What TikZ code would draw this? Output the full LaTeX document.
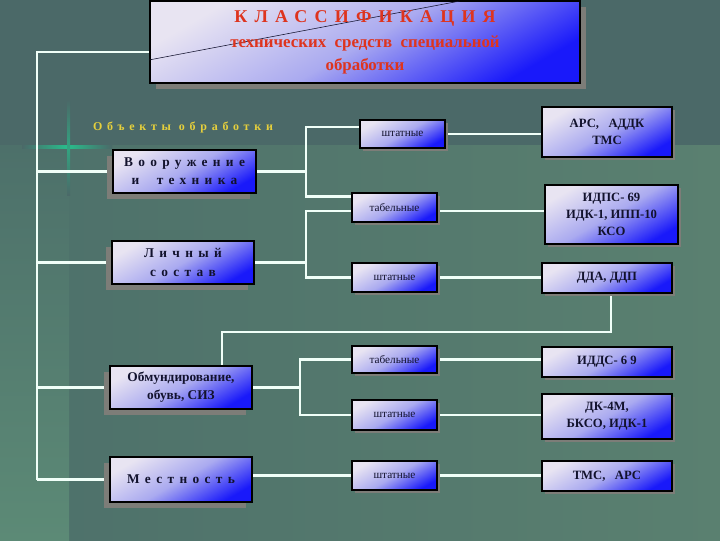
\documentclass[tikz,border=0pt]{standalone}
\usepackage{fontspec}
\setmainfont{Liberation Serif}
\newfontfamily\spacedfont[LetterSpace=40]{Liberation Serif}
\usetikzlibrary{shadows,calc,backgrounds}
\pgfdeclarelayer{bg}
\pgfdeclarelayer{wires}
\pgfsetlayers{bg,wires,main}
\definecolor{bgtop}{RGB}{75,105,104}
\definecolor{bglowl}{RGB}{77,112,106}
\definecolor{bglowr}{RGB}{90,128,112}
\definecolor{stripbot}{RGB}{92,138,118}
\definecolor{glow}{RGB}{40,190,140}
\definecolor{boxlight}{RGB}{232,228,242}
\definecolor{boxmid}{RGB}{170,170,240}
\definecolor{boxblue}{RGB}{25,25,250}
\definecolor{boxtext}{RGB}{18,18,45}
\definecolor{shadowgrey}{RGB}{125,125,120}
\definecolor{wirewhite}{RGB}{240,255,248}
\definecolor{titlered}{RGB}{222,52,30}
\definecolor{gold}{RGB}{230,208,60}
\tikzset{
  box/.style={draw=black, line width=1.4pt, top color=boxlight, bottom color=boxblue,
    middle color=boxmid, shading angle=30, text=boxtext, align=center, inner sep=1pt},
  lbox/.style={box, font=\fontsize{9.5}{13}\selectfont\bfseries,
    general shadow={fill=shadowgrey, shadow xshift=-4pt, shadow yshift=-4pt}},
  mbox/.style={box, font=\fontsize{8}{9}\selectfont,
    general shadow={fill=shadowgrey, shadow xshift=2pt, shadow yshift=-2pt}},
  rbox/.style={box, font=\fontsize{9}{12}\selectfont\bfseries,
    general shadow={fill=shadowgrey, shadow xshift=2pt, shadow yshift=-2pt}},
  wire/.style={draw=wirewhite, line width=1.6pt},
}

\begin{document}
\begin{tikzpicture}[x=0.025cm,y=-0.025cm]
  \useasboundingbox (0,0) rectangle (720,540);
  \begin{pgfonlayer}{bg}
    \fill[bgtop] (0,0) rectangle (720,540);
    \shade[left color=bglowl, right color=bglowr] (0,145) rectangle (720,540);
    \shade[top color=bglowl, bottom color=stripbot] (0,145) rectangle (69,540);
    \shade[left color=bgtop, right color=bgtop, middle color=glow] (22,145.5) rectangle (112,148.5);
    \shade[top color=bgtop, bottom color=bgtop, middle color=glow!70!bgtop] (67,100) rectangle (70,195);
  \end{pgfonlayer}

  % title
  \node[box, minimum width=10.75cm, minimum height=2.05cm,
    general shadow={fill=shadowgrey, shadow xshift=4pt, shadow yshift=-4pt}] (title) at (365,42) {};
  \draw[boxtext, line width=0.4pt] (title.west |- 0,60) -- (460,1);
  \node[text=titlered, font=\fontsize{12.8}{14}\selectfont\bfseries\spacedfont] (t1) at (365,18) {КЛАССИФИКАЦИЯ};
  \node[text=titlered, font=\fontsize{12}{16}\selectfont\bfseries, align=center] (t2) at (365,55)
    {технических~~средств~~специальной\\обработки};

  \node[text=gold, font=\fontsize{8.5}{10}\selectfont\bfseries\spacedfont] (obj) at (183,127) {Объекты обработки};

  % objects
  \node[lbox, minimum width=3.575cm, minimum height=1.075cm] (vooruzh) at (184.5,171.5)
    {\spacedfont Вооружение\\\spacedfont и~~техника};
  \node[lbox, minimum width=3.55cm, minimum height=1.075cm] (lichn) at (183,262.5)
    {\spacedfont Личный\\\spacedfont состав};
  \node[lbox, minimum width=3.55cm, minimum height=1.075cm] (obmund) at (181,387.5)
    {Обмундирование,\\обувь, СИЗ};
  \node[lbox, minimum width=3.55cm, minimum height=1.125cm] (mestn) at (181,479.5)
    {\spacedfont Местность};

  % middle
  \node[mbox, minimum width=2.125cm, minimum height=0.7cm] (sht1) at (402.5,134) {штатные};
  \node[mbox, minimum width=2.125cm, minimum height=0.725cm] (tab1) at (394.5,207.5) {табельные};
  \node[mbox, minimum width=2.125cm, minimum height=0.725cm] (sht2) at (394.5,277.5) {штатные};
  \node[mbox, minimum width=2.125cm, minimum height=0.675cm] (tab2) at (394.5,359.5) {табельные};
  \node[mbox, minimum width=2.125cm, minimum height=0.75cm] (sht3) at (394.5,415) {штатные};
  \node[mbox, minimum width=2.125cm, minimum height=0.725cm] (sht4) at (394.5,475.5) {штатные};

  % results
  \node[rbox, minimum width=3.25cm, minimum height=1.25cm] (res1) at (607,132) {АРС,~~~АДДК\\ТМС};
  \node[rbox, minimum width=3.325cm, minimum height=1.475cm] (res2) at (611.5,214.5)
    {ИДПС- 69\\ИДК-1, ИПП-10\\КСО};
  \node[rbox, minimum width=3.25cm, minimum height=0.75cm] (res3) at (607,278) {ДДА, ДДП};
  \node[rbox, minimum width=3.25cm, minimum height=0.75cm] (res4) at (607,362) {ИДДС- 6 9};
  \node[rbox, minimum width=3.25cm, minimum height=1.125cm] (res5) at (607,416.5) {ДК-4М,\\БКСО, ИДК-1};
  \node[rbox, minimum width=3.25cm, minimum height=0.75cm] (res6) at (607,476) {ТМС,~~~АРС};

  \coordinate (trunk) at (37,52);
  \coordinate (fk1) at (306,0);
  \coordinate (fk3) at (300,0);
  \coordinate (va) at ($(sht1.west)+(0,-7)$);
  \coordinate (vb) at ($(tab1.west)+(0,-11)$);
  \coordinate (la) at ($(tab1.west)+(0,3.5)$);

  \begin{pgfonlayer}{wires}
    \draw[wire] (title.west |- trunk) -- (trunk) -- (trunk |- mestn.west);
    \draw[wire] (trunk |- vooruzh.west) -- (vooruzh.west);
    \draw[wire] (trunk |- lichn.west) -- (lichn.west);
    \draw[wire] (trunk |- obmund.west) -- (obmund.west);
    \draw[wire] (trunk |- mestn.west) -- (mestn.west);

    \draw[wire] (vooruzh.east) -- (vooruzh.east -| fk1);
    \draw[wire] (va) -| (fk1 |- vb) -- (vb);
    \draw[wire] (lichn.east) -- (lichn.east -| fk1);
    \draw[wire] (la) -| (fk1 |- sht2.west) -- (sht2.west);
    \draw[wire] (obmund.east) -- (obmund.east -| fk3);
    \draw[wire] (tab2.west) -| (fk3 |- sht3.west) -- (sht3.west);
    \draw[wire] (sht4.west -| mestn.east) -- (sht4.west);

    \draw[wire] (sht1.east) -- (sht1.east -| res1.west);
    \draw[wire] ($(tab1.east)+(0,3.5)$) -- ($(tab1.east -| res2.west)+(0,3.5)$);
    \draw[wire] (sht2.east) -- (sht2.east -| res3.west);
    \draw[wire] (tab2.east) -- (tab2.east -| res4.west);
    \draw[wire] (sht3.east) -- (sht3.east -| res5.west);
    \draw[wire] (sht4.east) -- (sht4.east -| res6.west);

    \draw[wire] ($(res3.south)+(4,0)$) -- ++(0,38) -| ($(obmund.north)+(41,0)$);
  \end{pgfonlayer}
\end{tikzpicture}
\end{document}
